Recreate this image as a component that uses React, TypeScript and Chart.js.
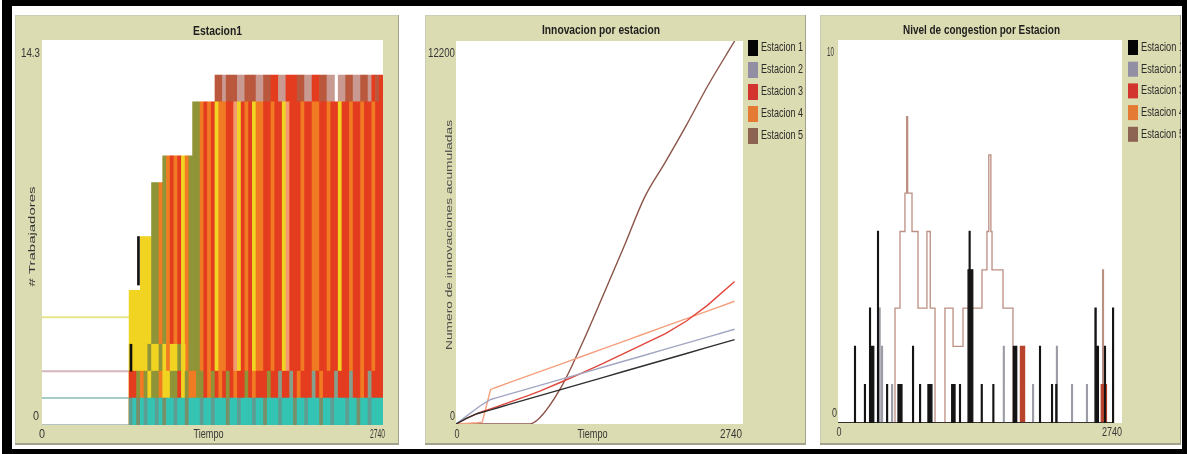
import React, { useEffect, useRef } from "react";
import { Chart, registerables } from "chart.js";

Chart.register(...registerables);

const X_MAX = 2740;
const BEIGE = "#dcdcb2";
const stationLabels = ["Estacion 1", "Estacion 2", "Estacion 3", "Estacion 4", "Estacion 5"];
const legendColors = ["#050505", "#928ea4", "#d3352e", "#e57a34", "#8d6452"];

// ---------------- Panel 1: Estacion1 (# Trabajadores) ----------------
const workerBinTicks = [
  715, 745, 775, 805, 835, 865, 895, 925, 955, 985,
  1015, 1045, 1075, 1105, 1135, 1165, 1195, 1225, 1255, 1285,
  1315, 1345, 1375, 1405, 1435, 1465, 1495, 1525, 1555, 1585,
  1615, 1645, 1675, 1705, 1735, 1765, 1795, 1825, 1855, 1885,
  1915, 1945, 1975, 2005, 2035, 2065, 2095, 2125, 2155, 2185,
  2215, 2245, 2275, 2305, 2335, 2365, 2395, 2425, 2455, 2485,
  2515, 2545, 2575, 2605, 2635, 2665, 2695, 2725,
];
const workerBodyLevels = [
  5, 5, 5, 7, 7, 7, 9, 9, 9, 10,
  10, 10, 10, 10, 10, 10, 10, 12, 12, 12,
  12, 12, 12, 12, 12, 12, 12, 12, 12, 12,
  12, 12, 12, 12, 12, 12, 12, 12, 12, 12,
  12, 12, 12, 12, 12, 12, 12, 12, 12, 12,
  12, 12, 12, 12, 12, 12, 12, 12, 12, 12,
  12, 12, 12, 12, 12, 12, 12, 12,
];
const workerTopLevels: (number | null)[] = [
  null, null, null, null, null, null, null, null, null, null,
  null, null, null, null, null, null, null, null, null, null,
  null, null, null, 13, 13, 13, 13, 13, 13, 13,
  13, 13, 13, 13, 13, 13, 13, 13, 13, 13,
  13, 13, 13, 13, 13, 13, 13, 13, 13, 13,
  13, 13, 13, 13, 13, null, 13, 13, 13, 13,
  13, 13, 13, 13, 13, 13, 13, 13,
];
const workerBandLevels = [1, 2, 3];
const workerBand0Colors = "tTnTtTTtTn TTtTTnTTTt TTtTTTnTTt TTTtTTnTTT tTTTnTTtTT TnTTtTTTtT TnTTtTTT";
const workerBand1Colors = "RRGOGYGGOY YGGRYGOOGG ROGRORGROR RGRORRRGRR gRRgRORRRg RORRRgRRRg RRORgRRR";
const workerBand2Colors = "YYYYYGYYGY OYYGY..... .......... .......... .......... .......... ........";
const workerBodyColors = "YYYYYYGGOG ORORYOGGGO RORYOORRSY RORYOORROR RYSRRRORRO ORRORRYRRO RRORRORR";
const workerTopColors = ".......... .......... ...BBPBBBP PBBBPPBBRR PPRRRBBPPR RBBPP.PPBB PPBBPRBR";
const workerPalette: Record<string, string> = {
  T: "#33c4b3", t: "#5e9e92", n: "#78906a",
  Y: "#f1d321", G: "#8e9437", g: "#86a08c",
  O: "#f07b22", R: "#e43c1f", S: "#f39a70",
  B: "#b9583d", P: "#c99a92",
};
const workerMarkTicks = [715, 775];
const workerMarkSpans = [[2, 3], [5.2, 7]];
const workerIdleTicks = [0, 700];
const workerIdleLevels = [4, 2, 1, 0];
const workerIdleColors = ["#e6e68a", "#d4b6bd", "#a6cec6", "#b4c4c4"];

// ---------------- Panel 2: Innovacion por estacion ----------------
const innovTicks = [0, 100, 200, 250, 330, 400, 500, 600, 700, 800, 1000, 1200, 1400, 1600, 1800, 2000, 2200, 2400, 2660];
const innovE1 = [0, 180, 327, 375, 452, 519, 615, 711, 807, 903, 1095, 1287, 1479, 1671, 1863, 2055, 2247, 2439, 2690];
const innovE2 = [0, 250, 500, 620, 780, 847, 943, 1039, 1135, 1231, 1423, 1615, 1807, 1999, 2191, 2383, 2575, 2767, 3017];
const innovE3 = [0, 180, 330, 390, 480, 560, 680, 800, 920, 1050, 1330, 1620, 1920, 2240, 2560, 2880, 3280, 3780, 4540];
const innovE4 = [0, 20, 40, 60, 1100, 1187, 1308, 1428, 1549, 1669, 1910, 2151, 2392, 2633, 2874, 3115, 3356, 3597, 3910];
const innovE5 = [0, 0, 0, 0, 0, 0, 0, 0, 0, 200, 1150, 2530, 4060, 5620, 7220, 8350, 9520, 10750, 12200];
const innovMax = 12200;
const innovLineColors = ["#2e2e2e", "#a3a6c2", "#e0463a", "#f4a07c", "#8c5448"];

// ---------------- Panel 3: Nivel de congestion por Estacion ----------------
const congE1: [number, number][] = [
  [0, 0], [160, 2], [168, 0], [256, 1], [264, 0], [305, 3], [313, 2], [345, 0], [382, 5], [390, 0],
  [470, 1], [478, 0], [579, 1], [617, 0], [720, 2], [728, 0], [788, 1], [796, 0], [868, 1], [906, 0],
  [1097, 1], [1129, 0], [1173, 1], [1181, 0], [1255, 4], [1266, 5], [1274, 4], [1300, 0], [1383, 1], [1391, 0],
  [1495, 1], [1503, 0], [1692, 2], [1724, 0], [1945, 2], [1953, 0], [2061, 1], [2069, 0], [2102, 1], [2110, 0],
  [2480, 3], [2490, 2], [2512, 0], [2572, 2], [2580, 0], [2650, 3], [2658, 0], [2660, 0],
];
const congE2: [number, number][] = [
  [0, 0], [398, 3], [406, 0], [421, 2], [429, 0], [518, 1], [526, 0], [1596, 2], [1604, 0], [1878, 1],
  [1886, 0], [2108, 2], [2116, 0], [2254, 1], [2262, 0], [2398, 1], [2406, 0], [2660, 0],
];
const congE3: [number, number][] = [[0, 0], [1760, 2], [1800, 0], [2540, 1], [2590, 0], [2660, 0]];
const congE4: [number, number][] = [[0, 0], [2660, 0]];
const congE5: [number, number][] = [
  [0, 0], [550, 3], [598, 5], [646, 6], [662, 8], [672, 6], [714, 5], [772, 3], [858, 5], [890, 3],
  [936, 0], [1032, 3], [1110, 2], [1206, 3], [1389, 4], [1437, 5], [1455, 7], [1475, 5], [1486, 4], [1592, 3],
  [1688, 0], [2553, 4], [2561, 0], [2660, 0],
];
const congMax = 10;
const congLineColors = ["#141414", "#9c9ca6", "#b8442c", "#f0a060", "#bb8f82"];
const congFilled = [true, false, true, false, false];

// ---------------- helpers ----------------
type TextSpec = {
  text: string; x: number; y: number; size: number; width: number;
  align?: CanvasTextAlign; bold?: boolean; vertical?: boolean; squash?: number; color?: string;
};
type LegendSpec = { dx: number; top: number; step: number; boxW: number; boxH: number; textWidth: number };

function drawLabel(ctx: CanvasRenderingContext2D, s: TextSpec) {
  ctx.save();
  ctx.font = `${s.bold ? "bold " : ""}${s.size}px "Liberation Sans", Arial, sans-serif`;
  ctx.fillStyle = s.color ?? "#363636";
  ctx.textBaseline = "middle";
  ctx.textAlign = s.align ?? "center";
  const natural = ctx.measureText(s.text).width || 1;
  const k = s.width / natural;
  ctx.translate(s.x, s.y);
  if (s.vertical) {
    ctx.scale(s.squash ?? 1, k);
    ctx.rotate(-Math.PI / 2);
  } else {
    ctx.scale(k, 1);
  }
  ctx.fillText(s.text, 0, 0);
  ctx.restore();
}

function netlogoFrame(texts: (chart: any) => TextSpec[], legend?: LegendSpec) {
  return {
    id: "netlogoFrame",
    beforeDraw(chart: any) {
      const { ctx, width, height, chartArea: a } = chart;
      ctx.save();
      ctx.fillStyle = BEIGE;
      ctx.fillRect(0, 0, width, height);
      ctx.fillStyle = "#cdcdb6";
      ctx.fillRect(0, 0, width, 1);
      ctx.fillRect(0, 0, 1, height);
      ctx.fillStyle = "#a3a38c";
      ctx.fillRect(width - 1, 0, 1, height);
      ctx.fillRect(0, height - 2, width, 2);
      ctx.fillStyle = "#ffffff";
      ctx.fillRect(a.left, a.top, a.right - a.left, a.bottom - a.top);
      ctx.restore();
    },
    afterDraw(chart: any) {
      const ctx = chart.ctx as CanvasRenderingContext2D;
      texts(chart).forEach((t) => drawLabel(ctx, t));
      if (legend) {
        const a = chart.chartArea;
        const labels = chart.data.datasets.map((d: any) => d.label).filter(Boolean);
        labels.forEach((label: string, i: number) => {
          const x = a.right + legend.dx;
          const y = legend.top + i * legend.step;
          ctx.save();
          ctx.fillStyle = legendColors[i];
          ctx.fillRect(x, y, legend.boxW, legend.boxH);
          ctx.restore();
          drawLabel(ctx, {
            text: label, x: x + legend.boxW + 3, y: y + legend.boxH / 2, size: 12,
            width: legend.textWidth, align: "left", color: "#2b2b2b",
          });
        });
      }
    },
  };
}

function codes(s: string) {
  return s.replace(/\s+/g, "").split("");
}

function bandDataset(levelAt: (i: number) => number | null, colorCodes: string) {
  const c = codes(colorCodes);
  const data: { x: number; y: number }[] = [];
  const colors: string[] = [];
  workerBinTicks.forEach((t, i) => {
    const lvl = levelAt(i);
    const col = workerPalette[c[i]];
    if (lvl == null || !col) return;
    data.push({ x: t, y: lvl });
    colors.push(col);
  });
  return {
    type: "bar",
    data,
    backgroundColor: colors,
    borderWidth: 0,
    barPercentage: 1,
    categoryPercentage: 1,
    grouped: false,
  };
}

const baseOptions = (pad: any, yMax: number) => ({
  animation: false,
  responsive: false,
  events: [],
  layout: { padding: pad },
  plugins: { legend: { display: false }, tooltip: { enabled: false }, title: { display: false } },
  scales: {
    x: { type: "linear", min: 0, max: X_MAX, display: false, offset: false },
    y: { type: "linear", min: 0, max: yMax, display: false },
  },
});

function workersConfig() {
  const marks = {
    type: "bar",
    data: workerMarkTicks.map((t, i) => ({ x: t, y: workerMarkSpans[i] })),
    backgroundColor: "#111111",
    borderWidth: 0,
    barThickness: 2,
    grouped: false,
  };
  const idle = workerIdleLevels.map((lvl, k) => ({
    type: "line",
    data: workerIdleTicks.map((t) => ({ x: t, y: lvl })),
    borderColor: workerIdleColors[k],
    borderWidth: 2,
    pointRadius: 0,
  }));
  return {
    type: "bar",
    data: {
      datasets: [
        marks,
        bandDataset(() => workerBandLevels[0], workerBand0Colors),
        bandDataset(() => workerBandLevels[1], workerBand1Colors),
        bandDataset(() => workerBandLevels[2], workerBand2Colors),
        bandDataset((i) => workerBodyLevels[i], workerBodyColors),
        bandDataset((i) => workerTopLevels[i], workerTopColors),
        ...idle,
      ],
    },
    options: baseOptions({ left: 27, top: 25, right: 16, bottom: 20 }, 14.3),
    plugins: [
      netlogoFrame((chart) => {
        const a = chart.chartArea;
        const xs = chart.scales.x;
        const ys = chart.scales.y;
        return [
          { text: "Estacion1", x: (a.left + a.right) / 2 + 5, y: 17, size: 12, width: 49, bold: true, color: "#1e1e1e" },
          { text: String(ys.max), x: a.left - 2, y: ys.getPixelForValue(ys.max) + 14, size: 12, width: 19, align: "right" },
          { text: String(ys.min), x: a.left - 3, y: ys.getPixelForValue(ys.min) - 8, size: 12, width: 6, align: "right" },
          { text: String(xs.min), x: xs.getPixelForValue(xs.min), y: a.bottom + 10, size: 12, width: 6 },
          { text: "Tiempo", x: (a.left + a.right) / 2 - 4, y: a.bottom + 10, size: 12, width: 30 },
          { text: String(xs.max), x: xs.getPixelForValue(xs.max) + 2, y: a.bottom + 10, size: 12, width: 15, align: "right" },
          { text: "# Trabajadores", x: a.left - 9, y: (a.top + a.bottom) / 2 + 4, size: 12, width: 100, vertical: true, squash: 0.7 },
        ];
      }),
    ],
  };
}

function innovConfig() {
  const series = [innovE1, innovE2, innovE3, innovE4, innovE5];
  return {
    type: "line",
    data: {
      datasets: series.map((vals, k) => ({
        label: stationLabels[k],
        data: innovTicks.map((t, i) => ({ x: t, y: vals[i] })),
        borderColor: innovLineColors[k],
        borderWidth: 1.4,
        pointRadius: 0,
        tension: 0,
        cubicInterpolationMode: k === 4 ? "monotone" : "default",
      })),
    },
    options: baseOptions({ left: 31, top: 26, right: 63, bottom: 21 }, innovMax),
    plugins: [
      netlogoFrame((chart) => {
        const a = chart.chartArea;
        const xs = chart.scales.x;
        const ys = chart.scales.y;
        return [
          { text: "Innovacion por estacion", x: (a.left + a.right) / 2 + 1.5, y: 16, size: 12, width: 118, bold: true, color: "#1e1e1e" },
          { text: String(ys.max), x: a.left - 1, y: ys.getPixelForValue(ys.max) + 13, size: 12, width: 27, align: "right" },
          { text: String(ys.min), x: a.left - 1, y: ys.getPixelForValue(ys.min) - 7, size: 12, width: 5, align: "right" },
          { text: String(xs.min), x: xs.getPixelForValue(xs.min) + 1, y: a.bottom + 11, size: 12, width: 5 },
          { text: "Tiempo", x: (a.left + a.right) / 2 - 7, y: a.bottom + 11, size: 12, width: 30 },
          { text: String(xs.max), x: xs.getPixelForValue(xs.max) - 1, y: a.bottom + 11, size: 12, width: 22, align: "right" },
          { text: "Numero de innovaciones acumuladas", x: a.left - 6, y: (a.top + a.bottom) / 2 + 2.5, size: 12, width: 230, vertical: true, squash: 0.72, color: "#4a4a4a" },
        ];
      }, { dx: 5, top: 25, step: 22, boxW: 10, boxH: 16, textWidth: 42 }),
    ],
  };
}

function congConfig() {
  const series = [congE1, congE2, congE3, congE4, congE5];
  return {
    type: "line",
    data: {
      datasets: series.map((ev, k) => ({
        label: stationLabels[k],
        data: ev.map(([t, v]) => ({ x: t, y: v })),
        borderColor: congLineColors[k],
        backgroundColor: congLineColors[k],
        fill: congFilled[k] ? "origin" : false,
        borderWidth: 1.3,
        pointRadius: 0,
        stepped: true,
      })),
    },
    options: baseOptions({ left: 18, top: 25, right: 59, bottom: 22 }, congMax),
    plugins: [
      netlogoFrame((chart) => {
        const a = chart.chartArea;
        const xs = chart.scales.x;
        const ys = chart.scales.y;
        return [
          { text: "Nivel de congestion por Estacion", x: (a.left + a.right) / 2 + 1.5, y: 16, size: 12, width: 157, bold: true, color: "#1e1e1e" },
          { text: String(ys.max), x: a.left - 4, y: ys.getPixelForValue(ys.max) + 13, size: 12, width: 7, align: "right" },
          { text: String(ys.min), x: a.left - 1, y: ys.getPixelForValue(ys.min) - 9, size: 12, width: 5, align: "right" },
          { text: String(xs.min), x: xs.getPixelForValue(xs.min) + 1, y: a.bottom + 10, size: 12, width: 5 },
          { text: String(xs.max), x: xs.getPixelForValue(xs.max), y: a.bottom + 10, size: 12, width: 20, align: "right" },
        ];
      }, { dx: 6, top: 25, step: 21.7, boxW: 10, boxH: 15, textWidth: 43 }),
    ],
  };
}

function ChartPanel(props: { left: number; top: number; width: number; height: number; make: () => any }) {
  const ref = useRef<HTMLCanvasElement>(null);
  useEffect(() => {
    const chart = new Chart(ref.current as HTMLCanvasElement, props.make());
    return () => chart.destroy();
  }, []);
  return (
    <canvas
      ref={ref}
      width={props.width}
      height={props.height}
      style={{ position: "absolute", left: props.left, top: props.top, width: props.width, height: props.height }}
    />
  );
}

export default function App() {
  return (
    <div style={{ position: "fixed", left: 0, top: 0, width: 1187, height: 454, background: "#ffffff", overflow: "hidden" }}>
      <div
        style={{
          position: "absolute", left: 2, top: 0, width: 1185, height: 454, boxSizing: "border-box",
          borderStyle: "solid", borderColor: "#000000", borderWidth: "6px 5px 5px 10px",
        }}
      />
      <ChartPanel left={15} top={15} width={384} height={430} make={workersConfig} />
      <ChartPanel left={425} top={15} width={381} height={430} make={innovConfig} />
      <ChartPanel left={820} top={15} width={361} height={430} make={congConfig} />
    </div>
  );
}
